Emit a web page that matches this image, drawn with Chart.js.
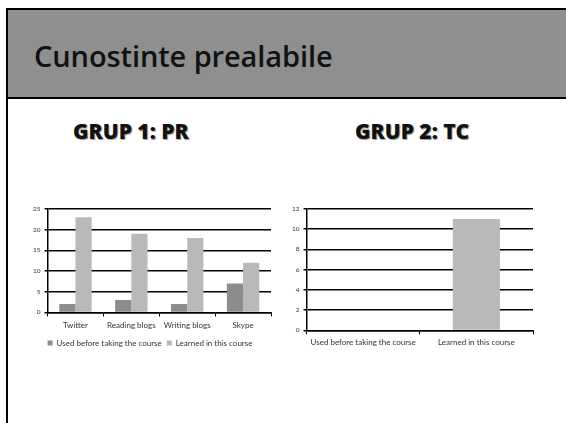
<!DOCTYPE html>
<html>
<head>
<meta charset="utf-8">
<script src="https://cdn.jsdelivr.net/npm/chart.js@4"></script>
<style>
    body { margin:0; width:566px; height:423px; background:#fff; overflow:hidden; position:relative; font-family:"Open Sans", Lato, sans-serif; }
    #slide { position:absolute; left:6px; top:8px; width:600px; height:440px; border-left:2px solid #000; border-top:2px solid #000; }
    #header { position:absolute; left:0; top:0; width:100%; height:87px; background:#8f8f8f; border-bottom:2px solid #000; }
    #mainTitle { position:absolute; left:26px; top:26px; font-size:29px; font-weight:600; color:#111; letter-spacing:-0.1px; }
    .groupTitle { position:absolute; font-size:21px; font-weight:800; color:#111; text-shadow:1px 1px 1px #999; }
    .chartBox { position:absolute; }
</style>
</head>
<body>
<div id="slide">
    <div id="header"><div id="mainTitle">Cunostinte prealabile</div></div>
</div>
<div class="groupTitle" style="left:73px; top:117px">GRUP 1: PR</div>
<div class="groupTitle" style="left:355px; top:117px">GRUP 2: TC</div>
<div class="chartBox" id="box1" style="left:22px; top:201px; width:259px; height:156px"><canvas id="chart1"></canvas></div>
<div class="chartBox" id="box2" style="left:288px; top:201px; width:252px; height:149px"><canvas id="chart2"></canvas></div>
<script>
// data
let seriesNames = ['Used before taking the course', 'Learned in this course'];
let categories1 = ['Twitter', 'Reading blogs', 'Writing blogs', 'Skype'];
let usedBefore1 = [2, 3, 2, 7];
let learned1 = [23, 19, 18, 12];
let categories2 = ['Used before taking the course', 'Learned in this course'];
let values2 = [0, 11];

let darkGray = 'rgb(140,140,140)';
let lightGray = 'rgb(185,185,185)';

document.addEventListener('DOMContentLoaded', drawCharts);

function drawCharts(){
    createChart1();
    createChart2();
}

function axisOptions(max, step, labelPad){
    return {
        x:{
            grid:{ drawOnChartArea:false, drawTicks:true, tickLength:4, color:'#000', offset:true },
            border:{ color:'#000', width:1.5 },
            ticks:{ color:'#333', font:{ size:8, family:'Lato' }, padding:labelPad, maxRotation:0 }
        },
        y:{
            min:0, max:max,
            grid:{ color:'#000', lineWidth:1.5, tickLength:3, drawTicks:true },
            border:{ color:'#000', width:1.5 },
            ticks:{ stepSize:step, color:'#333', font:{ size:6.5, family:'Lato' }, padding:4 }
        }
    };
}

function createChart1(){
    let ctx = document.getElementById('chart1');
    new Chart(ctx, {
        type:'bar',
        data:{
            labels:categories1,
            datasets:[
                { label:seriesNames[0], data:usedBefore1, backgroundColor:darkGray, categoryPercentage:0.58, barPercentage:1 },
                { label:seriesNames[1], data:learned1, backgroundColor:lightGray, categoryPercentage:0.58, barPercentage:1 }
            ]
        },
        options:{
            animation:false,
            responsive:true,
            maintainAspectRatio:false,
            layout:{ padding:{ left:7, right:10, top:6, bottom:0 } },
            plugins:{
                legend:{
                    display:true,
                    position:'bottom',
                    labels:{ boxWidth:5, boxHeight:5, color:'#333', font:{ size:8, family:'Lato' }, padding:5 }
                },
                tooltip:{ enabled:false }
            },
            scales:axisOptions(25, 5, 4)
        }
    });
}

function createChart2(){
    let ctx = document.getElementById('chart2');
    new Chart(ctx, {
        type:'bar',
        data:{
            labels:categories2,
            datasets:[
                { label:seriesNames[1], data:values2, backgroundColor:lightGray, categoryPercentage:0.8, barPercentage:0.52 }
            ]
        },
        options:{
            animation:false,
            responsive:true,
            maintainAspectRatio:false,
            layout:{ padding:{ left:0, right:7, top:6, bottom:0 } },
            plugins:{
                legend:{ display:false },
                tooltip:{ enabled:false }
            },
            scales:axisOptions(12, 2, 3)
        }
    });
}
</script>
</body>
</html>
